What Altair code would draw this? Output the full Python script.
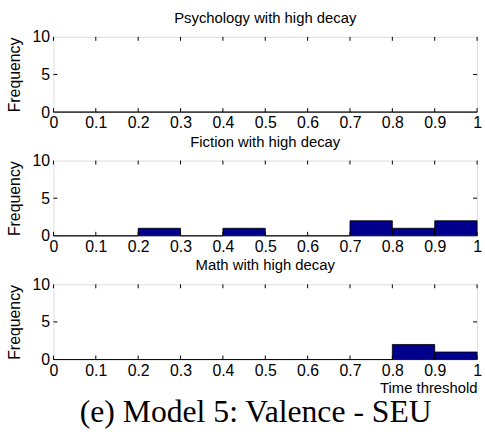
import altair as alt
import pandas as pd

bin_starts = [0.0, 0.1, 0.2, 0.3, 0.4, 0.5, 0.6, 0.7, 0.8, 0.9]
bin_ends = [0.1, 0.2, 0.3, 0.4, 0.5, 0.6, 0.7, 0.8, 0.9, 1.0]
psychology_counts = [0, 0, 0, 0, 0, 0, 0, 0, 0, 0]
fiction_counts = [0, 0, 1, 0, 1, 0, 0, 2, 1, 2]
math_counts = [0, 0, 0, 0, 0, 0, 0, 0, 2, 1]
panel_titles = ["Psychology with high decay", "Fiction with high decay", "Math with high decay"]
x_ticks = [0, 0.1, 0.2, 0.3, 0.4, 0.5, 0.6, 0.7, 0.8, 0.9, 1]
y_ticks = [0, 5, 10]
x_title = "Time threshold"
y_title = "Frequency"
caption = "(e) Model 5: Valence - SEU"

W, H = 428, 76
NAVY = "#00008C"
SANS = "Liberation Sans"


def panel(counts, title, show_xtitle):
    df = pd.DataFrame({"start": bin_starts, "end": bin_ends, "count": counts})
    xaxis = alt.Axis(values=x_ticks, format="~g", ticks=False, domain=False, grid=False,
                     labelFontSize=16, labelFont=SANS, labelColor="black", labelPadding=3,
                     labelFlush=False, labelOverlap=False,
                     title=x_title if show_xtitle else None,
                     titleAnchor="end", titleFont=SANS, titleFontSize=15,
                     titleFontWeight="normal", titleColor="black", titlePadding=2)
    yaxis = alt.Axis(values=y_ticks, ticks=False, domain=False, grid=False,
                     labelFontSize=16, labelFont=SANS, labelColor="black", labelPadding=4,
                     labelFlush=False, labelOverlap=False,
                     title=y_title, titleFont=SANS, titleFontSize=16,
                     titleFontWeight="normal", titleColor="black", titlePadding=10)
    xs = alt.Scale(domain=[0, 1], nice=False, zero=False)
    ys = alt.Scale(domain=[0, 10], nice=False)
    bars = alt.Chart(df).mark_rect(color=NAVY, stroke="black", strokeWidth=0.8).encode(
        x=alt.X("start:Q", scale=xs, axis=xaxis),
        x2="end:Q",
        y=alt.Y("count:Q", scale=ys, axis=yaxis),
        y2=alt.datum(0),
    )
    xt = pd.DataFrame({"start": x_ticks})
    yt = pd.DataFrame({"count": [5]})
    top = alt.Chart(xt).mark_rule(color="black", strokeWidth=1).encode(
        x=alt.X("start:Q", scale=xs, axis=xaxis), y=alt.value(0), y2=alt.value(4))
    bot = alt.Chart(xt).mark_rule(color="black", strokeWidth=1).encode(
        x=alt.X("start:Q", scale=xs, axis=xaxis), y=alt.value(H), y2=alt.value(H - 4))
    left = alt.Chart(yt).mark_rule(color="black", strokeWidth=1).encode(
        y=alt.Y("count:Q", scale=ys, axis=yaxis), x=alt.value(0), x2=alt.value(4))
    right = alt.Chart(yt).mark_rule(color="black", strokeWidth=1).encode(
        y=alt.Y("count:Q", scale=ys, axis=yaxis), x=alt.value(W), x2=alt.value(W - 4))
    return alt.layer(bars, top, bot, left, right).properties(
        width=W, height=H,
        title=alt.TitleParams(title, font=SANS, fontSize=15, fontWeight="normal",
                              color="black", offset=3),
    )


p1 = panel(psychology_counts, panel_titles[0], False)
p2 = panel(fiction_counts, panel_titles[1], False)
p3 = panel(math_counts, panel_titles[2], True)

chart = alt.vconcat(p1, p2, p3, spacing=2).properties(
    title=alt.TitleParams(caption, orient="bottom", anchor="middle",
                          font="Liberation Serif", fontSize=32, fontWeight="normal",
                          color="black", offset=2, dx=12),
    padding={"left": 5, "top": 8, "right": 3, "bottom": 2},
).configure_view(stroke="black", strokeWidth=1.5).configure(background="white")

chart.save("out.html", embed_options={"renderer": "svg", "actions": False})
